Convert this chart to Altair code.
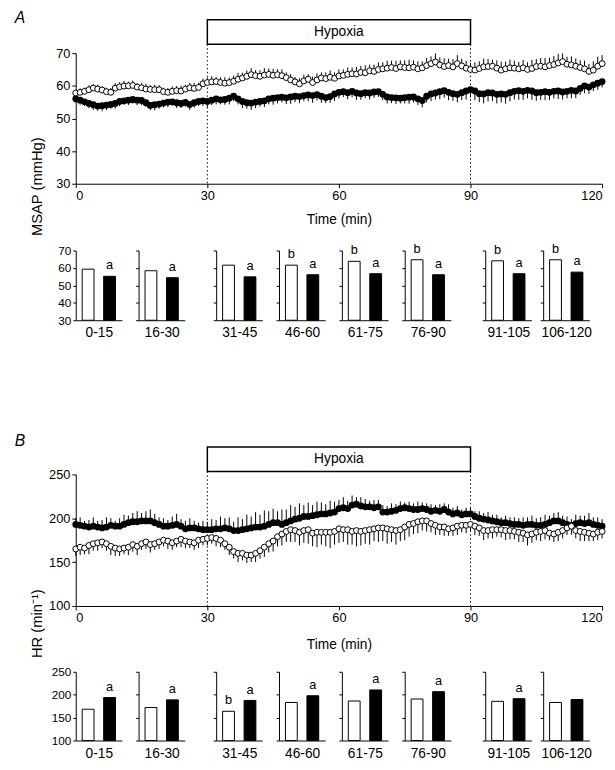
import altair as alt
import pandas as pd

minutes = list(range(121))

msap_open = [57.8, 58.0, 58.3, 58.8, 59.3, 59.0, 58.7, 58.2, 58.0, 59.3,
             59.7, 59.9, 60.0, 60.1, 59.6, 59.4, 59.0, 58.9, 58.8, 58.8,
             58.2, 58.0, 58.3, 58.5, 58.4, 59.0, 59.4, 59.2, 59.5, 60.6,
             61.0, 61.2, 61.3, 61.0, 60.8, 61.0, 61.4, 62.0, 62.4, 62.9,
             63.4, 63.1, 62.9, 63.3, 63.5, 63.2, 63.4, 63.1, 62.5, 61.8,
             61.2, 60.6, 61.5, 62.0, 61.0, 61.8, 62.4, 62.2, 62.6, 62.3,
             63.0, 63.2, 63.5, 63.7, 63.6, 64.1, 64.0, 64.6, 64.4, 65.0,
             65.2, 65.4, 65.6, 65.3, 65.8, 65.6, 65.5, 65.7, 65.2, 65.5,
             66.2, 66.8, 67.3, 66.4, 65.9, 66.2, 65.8, 66.8, 66.1, 65.4,
             65.0, 64.8, 65.3, 65.8, 65.9, 66.0, 65.4, 64.8, 65.2, 65.5,
             65.4, 65.2, 65.5, 65.0, 65.3, 65.9, 66.0, 65.8, 66.2, 66.5,
             67.0, 67.4, 66.6, 66.4, 66.0, 65.6, 65.2, 64.4, 64.8, 66.0,
             66.8]
msap_open_sem = [1.0, 1.2, 1.1, 1.3, 1.2, 1.4, 1.1, 1.2, 1.3, 1.5,
                 1.4, 1.6, 1.3, 1.5, 1.2, 1.4, 1.6, 1.3, 1.5, 1.4,
                 1.2, 1.3, 1.5, 1.4, 1.6, 1.3, 1.5, 1.7, 1.4, 1.6,
                 1.5, 1.7, 1.4, 1.6, 1.8, 1.5, 1.7, 1.9, 1.6, 1.8,
                 2.0, 1.7, 1.9, 2.1, 1.8, 2.0, 1.7, 1.9, 1.6, 1.8,
                 1.5, 1.7, 1.9, 1.6, 1.8, 2.0, 1.7, 1.9, 2.1, 1.8,
                 2.0, 1.8, 2.1, 1.9, 2.2, 2.0, 2.3, 1.9, 2.1, 2.2,
                 2.0, 2.3, 2.1, 2.4, 2.0, 2.2, 2.5, 2.1, 2.3, 2.0,
                 2.4, 2.2, 2.6, 2.3, 2.5, 2.1, 2.4, 2.6, 2.2, 2.3,
                 2.1, 2.4, 2.2, 2.5, 2.3, 2.0, 2.4, 2.6, 2.2, 2.5,
                 2.3, 2.1, 2.4, 2.2, 2.6, 2.3, 2.5, 2.7, 2.4, 2.6,
                 2.8, 2.5, 2.3, 2.6, 2.4, 2.2, 2.5, 2.3, 2.7, 2.9,
                 2.6]
msap_filled = [56.0, 55.6, 55.1, 54.6, 54.2, 53.8, 53.9, 54.1, 54.3, 54.6,
               55.2, 55.4, 55.6, 55.8, 55.6, 55.5, 54.8, 54.0, 54.2, 54.4,
               54.7, 55.0, 55.1, 54.8, 54.6, 54.9, 54.3, 54.8, 55.2, 55.4,
               55.2, 55.6, 56.0, 55.7, 55.8, 56.2, 56.8, 56.0, 55.2, 54.8,
               54.7, 55.0, 55.2, 55.4, 56.0, 56.2, 56.4, 56.5, 56.3, 56.6,
               56.8, 56.7, 57.0, 57.2, 57.0, 57.3, 56.8, 56.4, 56.7, 57.5,
               58.0, 58.2, 57.9, 58.3, 57.8, 57.6, 57.9, 57.8, 58.1, 58.2,
               57.4, 56.6, 56.4, 56.3, 56.2, 56.4, 56.5, 56.6, 56.0, 55.5,
               56.8, 57.5, 57.8, 58.2, 58.5, 58.0, 57.6, 57.4, 57.9, 58.4,
               58.8, 58.4, 57.6, 57.5, 57.9, 57.8, 57.4, 57.5, 57.4, 57.9,
               58.3, 58.5, 58.3, 58.6, 58.4, 57.9, 58.0, 58.2, 58.0, 58.3,
               58.4, 58.1, 58.3, 58.6, 58.4, 59.2, 60.0, 59.6, 60.3, 60.8,
               61.3]
msap_filled_sem = [1.2, 1.4, 1.3, 1.5, 1.6, 1.4, 1.7, 1.5, 1.3, 1.6,
                   1.4, 1.2, 1.5, 1.3, 1.6, 1.4, 1.2, 1.5, 1.7, 1.4,
                   1.3, 1.5, 1.2, 1.6, 1.4, 1.3, 1.7, 1.5, 1.4, 1.6,
                   1.8, 1.5, 1.7, 1.4, 1.6, 1.9, 1.5, 1.7, 2.0, 1.8,
                   2.1, 1.8, 1.6, 1.9, 1.7, 2.0, 1.8, 1.6, 1.9, 2.1,
                   1.8, 2.0, 1.7, 1.9, 2.2, 1.8, 2.0, 1.7, 1.9, 2.1,
                   1.9, 1.7, 2.0, 1.8, 2.1, 1.9, 1.7, 2.0, 1.8, 1.6,
                   1.8, 2.0, 1.7, 1.9, 1.6, 1.8, 2.0, 1.7, 1.9, 2.1,
                   1.9, 2.2, 2.0, 2.3, 2.1, 2.4, 2.2, 2.5, 2.3, 2.6,
                   2.4, 2.8, 2.6, 2.9, 2.7, 2.5, 2.8, 2.6, 2.9, 2.7,
                   2.5, 2.8, 2.6, 2.4, 2.7, 2.5, 2.3, 2.6, 2.4, 2.2,
                   2.5, 2.3, 2.1, 2.4, 2.2, 2.0, 2.3, 2.1, 1.9, 2.0,
                   1.8]

hr_open = [165, 167, 166, 169, 171, 172, 173, 171, 168, 166,
           165, 166, 167, 170, 168, 171, 173, 170, 171, 173,
           175, 174, 172, 174, 176, 174, 173, 172, 175, 176,
           177, 178, 177, 175, 171, 167, 162, 160, 160, 158,
           158, 160, 163, 167, 171, 174, 179, 182, 185, 187,
           186, 184, 186, 187, 183, 184, 184, 184, 184, 185,
           188, 187, 187, 185, 186, 185, 186, 187, 188, 189,
           189, 188, 187, 186, 187, 190, 193, 194, 196, 197,
           197, 194, 192, 190, 190, 188, 189, 191, 192, 192,
           193, 191, 189, 186, 186, 187, 187, 187, 186, 186,
           185, 184, 183, 181, 182, 184, 185, 186, 183, 182,
           184, 186, 189, 191, 186, 185, 184, 183, 182, 184,
           185]
hr_open_sem = [8, 9, 7, 10, 8, 9, 7, 8, 10, 9,
               8, 7, 9, 8, 10, 7, 8, 9, 7, 8,
               7, 9, 8, 7, 9, 8, 7, 8, 9, 7,
               8, 7, 9, 8, 7, 9, 8, 10, 8, 9,
               8, 10, 9, 11, 10, 12, 11, 13, 12, 14,
               13, 15, 14, 16, 15, 17, 14, 16, 18, 15,
               16, 14, 17, 15, 18, 16, 15, 17, 14, 16,
               15, 17, 14, 16, 13, 15, 14, 12, 13, 11,
               12, 10, 11, 9, 10, 8, 9, 10, 8, 9,
               8, 10, 9, 11, 9, 10, 8, 9, 11, 10,
               9, 11, 10, 12, 10, 9, 11, 10, 8, 9,
               10, 9, 8, 10, 9, 11, 10, 9, 8, 9,
               8]
hr_filled = [193, 192, 191, 190, 191, 190, 189, 190, 192, 191,
             191, 193, 195, 196, 196, 197, 197, 197, 195, 193,
             191, 191, 192, 193, 191, 188, 189, 189, 188, 187,
             187, 187, 188, 188, 189, 188, 186, 186, 187, 188,
             189, 190, 190, 191, 193, 195, 195, 193, 195, 197,
             199, 200, 202, 202, 203, 204, 205, 205, 206, 207,
             211, 212, 211, 215, 216, 214, 213, 213, 212, 213,
             207, 207, 208, 209, 211, 212, 211, 210, 210, 211,
             210, 208, 209, 208, 210, 207, 205, 206, 204, 205,
             205, 202, 200, 199, 198, 197, 196, 195, 195, 194,
             193, 193, 192, 193, 193, 192, 192, 193, 195, 197,
             197, 195, 193, 192, 194, 195, 194, 195, 193, 192,
             191]
hr_filled_sem = [7, 9, 6, 8, 10, 7, 9, 11, 8, 6,
                 9, 11, 8, 10, 12, 9, 11, 13, 10, 8,
                 9, 7, 10, 12, 8, 9, 11, 8, 7, 10,
                 9, 12, 10, 14, 11, 13, 10, 15, 12, 16,
                 13, 17, 14, 18, 15, 16, 13, 17, 15, 18,
                 14, 17, 13, 16, 12, 15, 13, 11, 14, 12,
                 10, 12, 9, 11, 8, 10, 9, 7, 9, 8,
                 8, 7, 9, 7, 8, 6, 8, 7, 9, 7,
                 7, 8, 6, 8, 7, 9, 7, 8, 6, 7,
                 7, 6, 8, 7, 9, 7, 8, 6, 8, 7,
                 8, 7, 9, 8, 10, 8, 9, 11, 8, 9,
                 10, 8, 9, 7, 10, 8, 9, 11, 8, 9,
                 8]

hypoxia = [30, 90]

periods = ["0-15", "16-30", "31-45", "46-60", "61-75", "76-90", "91-105", "106-120"]
msap_bar_open = [59.3, 58.4, 61.6, 61.6, 63.8, 64.7, 64.1, 64.7]
msap_bar_filled = [55.2, 54.4, 54.9, 56.1, 56.7, 56.1, 56.7, 57.6]
msap_ann_open = ["", "", "", "b", "b", "b", "b", "b"]
msap_ann_filled = ["a", "a", "a", "a", "a", "a", "a", "a"]
hr_bar_open = [168.3, 172.1, 163.8, 183.0, 186.2, 190.6, 185.5, 183.0]
hr_bar_filled = [193.8, 188.7, 187.5, 197.7, 210.4, 206.6, 191.3, 189.4]
hr_ann_open = ["", "", "b", "", "", "", "", ""]
hr_ann_filled = ["a", "a", "a", "a", "a", "a", "a", ""]

FONT = "Liberation Sans"
MAIN_W = 536


def main_chart(v_open, s_open, v_filled, s_filled, ydom, yticks, ylabel,
               letter, height, box_top, box_bot, letter_y, ylabel_y,
               open_up, title_pad):
    df = pd.DataFrame({"t": minutes, "o": v_open, "so": s_open,
                       "f": v_filled, "sf": s_filled})
    sign_o = 1 if open_up else -1
    df["o_end"] = df["o"] + sign_o * df["so"]
    df["f_end"] = df["f"] - sign_o * df["sf"]

    xs = alt.Scale(domain=[0, 120], nice=False, zero=False)
    ys = alt.Scale(domain=ydom, nice=False, zero=False)
    xaxis = alt.Axis(values=[0, 30, 60, 90, 120], title="Time (min)",
                     titlePadding=title_pad, tickSize=4, labelOverlap=False,
                     grid=False)
    yaxis = alt.Axis(values=yticks, title=None, tickSize=4,
                     labelOverlap=False, grid=False)

    def X(field):
        return alt.X(field, scale=xs, axis=xaxis)

    def Y(field):
        return alt.Y(field, scale=ys, axis=yaxis)

    base = alt.Chart(df).encode(x=X("t:Q"))
    err_o = base.mark_rule(color="black", strokeWidth=1).encode(
        y=Y("o:Q"), y2="o_end:Q")
    err_f = base.mark_rule(color="black", strokeWidth=1).encode(
        y=Y("f:Q"), y2="f_end:Q")
    pts_f = base.mark_circle(color="black", opacity=1, size=48).encode(y=Y("f:Q"))
    pts_o = base.mark_circle(fill="white", stroke="black", strokeWidth=1,
                             opacity=1, size=36).encode(y=Y("o:Q"))

    hyp = alt.Chart(pd.DataFrame({"start": [hypoxia[0]], "end": [hypoxia[1]]}))
    box = hyp.mark_rect(fill="white", stroke="black", strokeWidth=1.5).encode(
        x=X("start:Q"), x2="end:Q",
        y=alt.value(box_top), y2=alt.value(box_bot))
    box_txt = hyp.transform_calculate(mid="(datum.start + datum.end) / 2").mark_text(
        fontSize=14, color="black").encode(
        x=X("mid:Q"), y=alt.value((box_top + box_bot) / 2),
        text=alt.value("Hypoxia"))
    edges = alt.Chart(pd.DataFrame({"edge": hypoxia})).mark_rule(
        color="black", strokeWidth=1, strokeDash=[1.5, 2.5]).encode(
        x=X("edge:Q"), y=alt.value(box_bot), y2=alt.value(height))

    lab = alt.Chart(pd.DataFrame({"l": [letter], "yl": [ylabel]}))
    letter_txt = lab.mark_text(fontSize=16, fontStyle="italic", align="left",
                               baseline="top", color="black").encode(
        x=alt.value(-62), y=alt.value(letter_y), text="l:N")
    ylab_txt = lab.mark_text(fontSize=15, angle=270, color="black").encode(
        x=alt.value(-39), y=alt.value(ylabel_y), text="yl:N")

    return alt.layer(box, box_txt, edges, err_o, err_f, pts_f, pts_o,
                     letter_txt, ylab_txt).properties(width=MAIN_W, height=height)


def bar_panel(i, opens, filleds, ann_o, ann_f, ydom, yticks, height, first):
    df = pd.DataFrame({"group": ["open", "filled"],
                       "value": [opens[i], filleds[i]],
                       "ann": [ann_o[i], ann_f[i]]})
    xenc = alt.X("group:N", sort=["open", "filled"],
                 scale=alt.Scale(paddingInner=0.45, paddingOuter=0.3),
                 axis=alt.Axis(labels=False, ticks=False, title=periods[i],
                               titlePadding=6, titleFontSize=14, grid=False))
    ys = alt.Scale(domain=ydom, nice=False, zero=False)
    yenc = alt.Y("value:Q", scale=ys,
                 axis=alt.Axis(values=yticks, labels=first, title=None,
                               tickSize=3, labelFontSize=12, labelOverlap=False,
                               grid=False))
    bars = alt.Chart(df).mark_bar(stroke="black", strokeWidth=1).encode(
        x=xenc, y=yenc, y2=alt.datum(ydom[0]),
        fill=alt.Fill("group:N", scale=alt.Scale(domain=["open", "filled"],
                                                  range=["white", "black"]),
                      legend=None))
    ann = alt.Chart(df).mark_text(fontSize=13, dy=-11, color="black").encode(
        x=xenc, y=yenc, text="ann:N")
    layers = [bars, ann]
    if first:
        spacer = alt.Chart(pd.DataFrame({"s": ["A"]})).mark_text(
            opacity=0, align="left", fontSize=13).encode(
            x=alt.value(-72), y=alt.value(height / 2), text="s:N")
        layers.append(spacer)
    return alt.layer(*layers).properties(width=47, height=height)


def bar_row(opens, filleds, ann_o, ann_f, ydom, yticks, height):
    p = [bar_panel(i, opens, filleds, ann_o, ann_f, ydom, yticks, height, i == 0)
         for i in range(8)]
    g1 = alt.hconcat(p[0], p[1], spacing=13)
    g2 = alt.hconcat(p[2], p[3], p[4], p[5], spacing=13)
    g3 = alt.hconcat(p[6], p[7], spacing=8)
    return alt.hconcat(alt.hconcat(g1, g2, spacing=28), g3, spacing=31)


main_a = main_chart(msap_open, msap_open_sem, msap_filled, msap_filled_sem,
                    [30, 70], [30, 40, 50, 60, 70], "MSAP (mmHg)", "A",
                    133, -34, -9, -44, 136, True, 10)
bars_a = bar_row(msap_bar_open, msap_bar_filled, msap_ann_open, msap_ann_filled,
                 [30, 70], [30, 40, 50, 60, 70], 71)
main_b = main_chart(hr_open, hr_open_sem, hr_filled, hr_filled_sem,
                    [100, 250], [100, 150, 200, 250], "HR (min\u207b\u00b9)", "B",
                    134, -28, -3, -42, 152, False, 13)
bars_b = bar_row(hr_bar_open, hr_bar_filled, hr_ann_open, hr_ann_filled,
                 [100, 250], [100, 150, 200, 250], 70)

chart = alt.vconcat(
    alt.vconcat(main_a, bars_a, spacing=6),
    alt.vconcat(main_b, bars_b, spacing=8),
    spacing=95,
).properties(
    padding={"left": -3, "top": -5, "right": 0, "bottom": 0},
    background="white",
).configure_view(stroke=None).configure_axis(
    grid=False, domainColor="black", tickColor="black", labelColor="black",
    titleColor="black", labelFont=FONT, titleFont=FONT, labelFontSize=13,
    titleFontSize=14, titleFontWeight="normal", domainWidth=1, tickWidth=1,
    labelPadding=2,
).configure_text(font=FONT)

chart.save("out.html", embed_options={"renderer": "svg", "actions": False})
